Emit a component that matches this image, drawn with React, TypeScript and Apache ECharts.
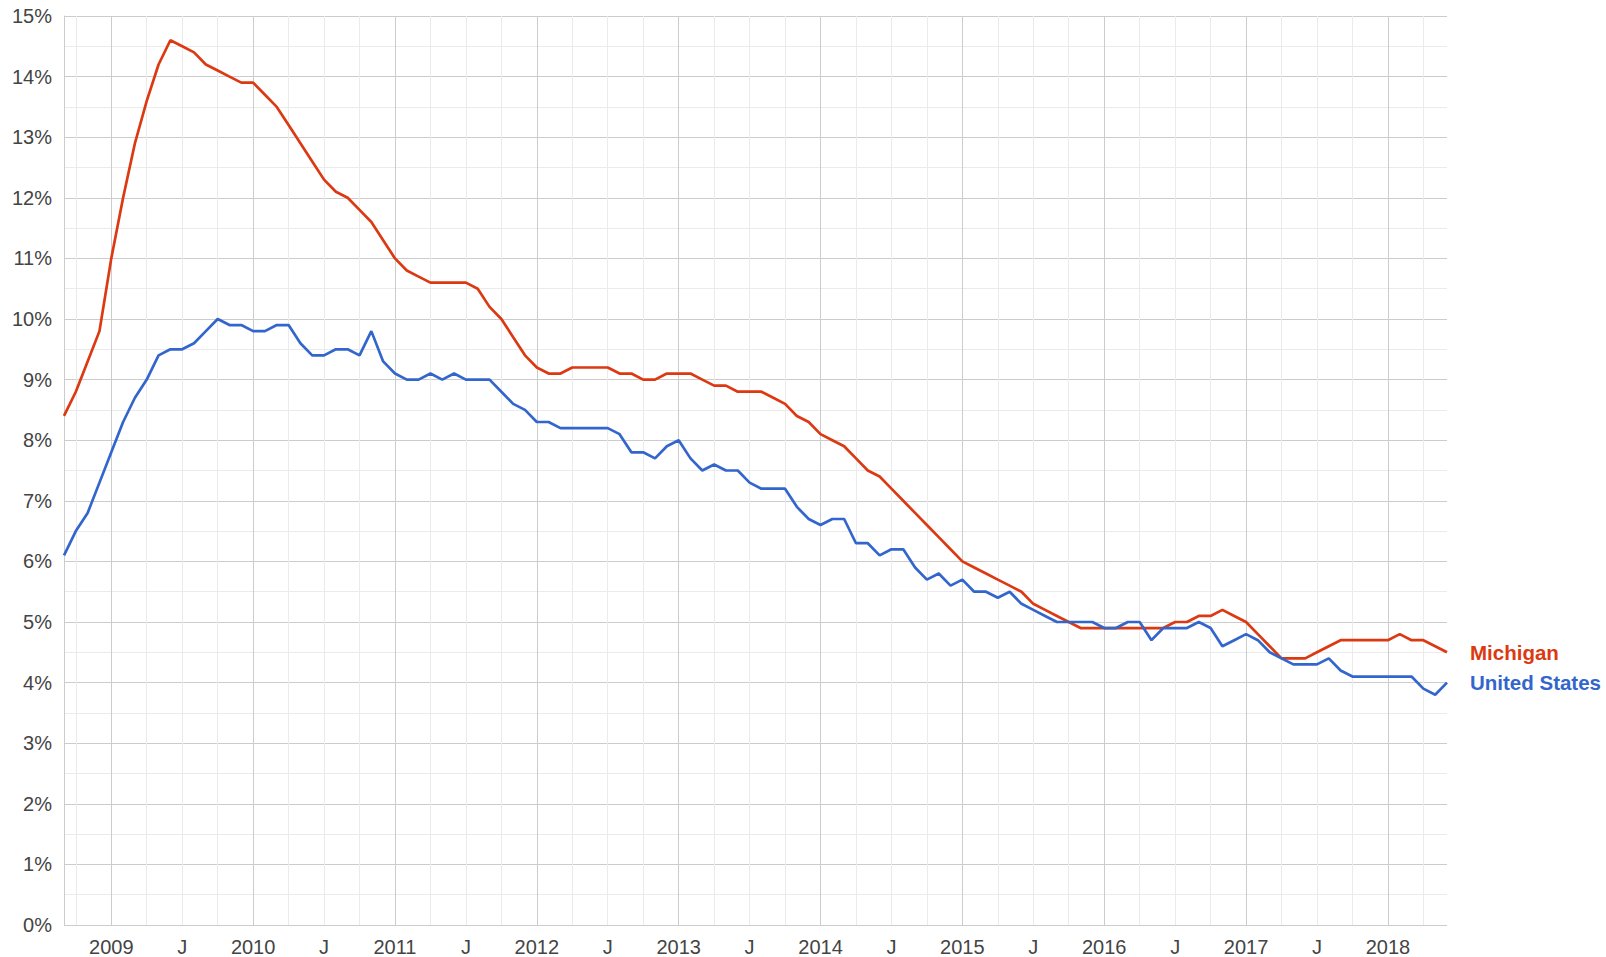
import React, { useEffect, useRef } from "react";
import * as echarts from "echarts";

// Monthly unemployment rate (%), Sep 2008 – Jun 2018
const startYear = 2008;
const startMonth = 9;

const michigan: number[] = [
  8.4, 8.8, 9.3, 9.8, // 2008 Sep-Dec
  11.0, 12.0, 12.9, 13.6, 14.2, 14.6, 14.5, 14.4, 14.2, 14.1, 14.0, 13.9, // 2009
  13.9, 13.7, 13.5, 13.2, 12.9, 12.6, 12.3, 12.1, 12.0, 11.8, 11.6, 11.3, // 2010
  11.0, 10.8, 10.7, 10.6, 10.6, 10.6, 10.6, 10.5, 10.2, 10.0, 9.7, 9.4, // 2011
  9.2, 9.1, 9.1, 9.2, 9.2, 9.2, 9.2, 9.1, 9.1, 9.0, 9.0, 9.1, // 2012
  9.1, 9.1, 9.0, 8.9, 8.9, 8.8, 8.8, 8.8, 8.7, 8.6, 8.4, 8.3, // 2013
  8.1, 8.0, 7.9, 7.7, 7.5, 7.4, 7.2, 7.0, 6.8, 6.6, 6.4, 6.2, // 2014
  6.0, 5.9, 5.8, 5.7, 5.6, 5.5, 5.3, 5.2, 5.1, 5.0, 4.9, 4.9, // 2015
  4.9, 4.9, 4.9, 4.9, 4.9, 4.9, 5.0, 5.0, 5.1, 5.1, 5.2, 5.1, // 2016
  5.0, 4.8, 4.6, 4.4, 4.4, 4.4, 4.5, 4.6, 4.7, 4.7, 4.7, 4.7, // 2017
  4.7, 4.8, 4.7, 4.7, 4.6, 4.5, // 2018 Jan-Jun
];

const unitedStates: number[] = [
  6.1, 6.5, 6.8, 7.3, // 2008 Sep-Dec
  7.8, 8.3, 8.7, 9.0, 9.4, 9.5, 9.5, 9.6, 9.8, 10.0, 9.9, 9.9, // 2009
  9.8, 9.8, 9.9, 9.9, 9.6, 9.4, 9.4, 9.5, 9.5, 9.4, 9.8, 9.3, // 2010
  9.1, 9.0, 9.0, 9.1, 9.0, 9.1, 9.0, 9.0, 9.0, 8.8, 8.6, 8.5, // 2011
  8.3, 8.3, 8.2, 8.2, 8.2, 8.2, 8.2, 8.1, 7.8, 7.8, 7.7, 7.9, // 2012
  8.0, 7.7, 7.5, 7.6, 7.5, 7.5, 7.3, 7.2, 7.2, 7.2, 6.9, 6.7, // 2013
  6.6, 6.7, 6.7, 6.3, 6.3, 6.1, 6.2, 6.2, 5.9, 5.7, 5.8, 5.6, // 2014
  5.7, 5.5, 5.5, 5.4, 5.5, 5.3, 5.2, 5.1, 5.0, 5.0, 5.0, 5.0, // 2015
  4.9, 4.9, 5.0, 5.0, 4.7, 4.9, 4.9, 4.9, 5.0, 4.9, 4.6, 4.7, // 2016
  4.8, 4.7, 4.5, 4.4, 4.3, 4.3, 4.3, 4.4, 4.2, 4.1, 4.1, 4.1, // 2017
  4.1, 4.1, 4.1, 3.9, 3.8, 4.0, // 2018 Jan-Jun
];

const seriesNames = ["Michigan", "United States"];
const seriesColors = ["#dc3912", "#3366cc"];

const yMin = 0;
const yMax = 15;
const yStep = 1;

const months: string[] = michigan.map((_, i) => {
  const m0 = startMonth - 1 + i;
  const y = startYear + Math.floor(m0 / 12);
  const m = (m0 % 12) + 1;
  return `${y}-${String(m).padStart(2, "0")}`;
});

const monthOf = (v: string) => v.slice(5, 7);

const FONT = '"Liberation Sans", Arial, sans-serif';

export default function App() {
  const ref = useRef<HTMLDivElement>(null);

  useEffect(() => {
    if (!ref.current) return;
    const chart = echarts.init(ref.current, undefined, { renderer: "svg" });
    chart.setOption({
      animation: false,
      backgroundColor: "#ffffff",
      textStyle: { fontFamily: FONT },
      grid: { left: 64, top: 16, width: 1383, height: 909, containLabel: false },
      xAxis: [
        {
          type: "category",
          data: months,
          boundaryGap: false,
          position: "bottom",
          axisLine: { show: false },
          axisTick: { show: false },
          axisLabel: {
            interval: (_i: number, v: string) => monthOf(v) === "01" || monthOf(v) === "07",
            formatter: (v: string) => (monthOf(v) === "01" ? v.slice(0, 4) : "J"),
            color: "#444",
            fontSize: 20,
            fontFamily: FONT,
            margin: 12,
            hideOverlap: false,
          },
          splitLine: {
            show: true,
            interval: (_i: number, v: string) => monthOf(v) === "01",
            lineStyle: { color: "#cccccc", width: 1 },
          },
        },
        {
          type: "category",
          data: months,
          boundaryGap: false,
          position: "top",
          axisLine: { show: false },
          axisTick: { show: false },
          axisLabel: { show: false },
          splitLine: {
            show: true,
            interval: (_i: number, v: string) => ["04", "07", "10"].includes(monthOf(v)),
            lineStyle: { color: "#ebebeb", width: 1 },
          },
        },
      ],
      yAxis: {
        type: "value",
        min: yMin,
        max: yMax,
        interval: yStep,
        axisLine: { show: true, lineStyle: { color: "#cccccc", width: 1 } },
        axisTick: { show: false },
        minorTick: { show: false, splitNumber: 2 },
        axisLabel: {
          formatter: "{value}%",
          color: "#444",
          fontSize: 20,
          fontFamily: FONT,
          margin: 12,
        },
        splitLine: { show: true, lineStyle: { color: "#cccccc", width: 1 } },
        minorSplitLine: { show: true, lineStyle: { color: "#ebebeb", width: 1 } },
      },
      series: [michigan, unitedStates].map((d, i) => ({
        name: seriesNames[i],
        type: "line",
        data: d,
        xAxisIndex: 0,
        showSymbol: false,
        symbol: "none",
        clip: false,
        lineStyle: { color: seriesColors[i], width: 2.7 },
        itemStyle: { color: seriesColors[i] },
        endLabel: {
          show: true,
          formatter: "{a}",
          color: seriesColors[i],
          fontSize: 20.5,
          fontWeight: "bold",
          fontFamily: FONT,
          distance: 23,
        },
      })),
    });
    return () => chart.dispose();
  }, []);

  return (
    <div
      ref={ref}
      style={{ position: "fixed", left: 0, top: 0, width: 1606, height: 957, background: "#fff" }}
    />
  );
}
